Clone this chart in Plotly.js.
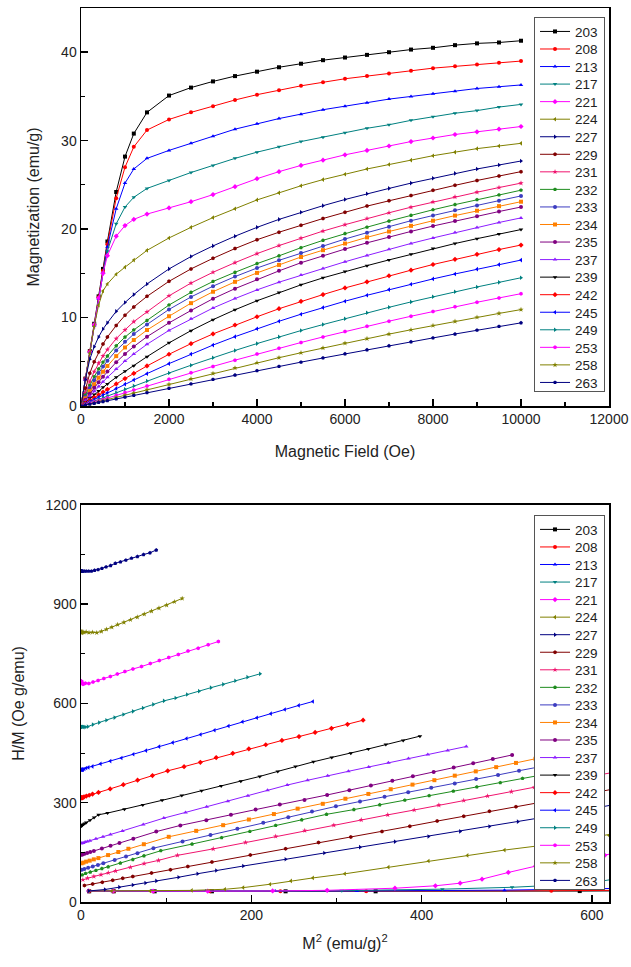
<!DOCTYPE html>
<html>
<head>
<meta charset="utf-8">
<script src="https://cdn.plot.ly/plotly-3.0.1.min.js"></script>
<style>html,body{margin:0;padding:0;background:#fff;}#chart{width:631px;height:967px;}</style>
</head>
<body>
<div id="chart"></div>
<script>
// Magnetic field values (Oe)
var H = [0,100,200,300,400,500,600,800,1000,1200,1500,2000,2500,3000,3500,4000,4500,5000,5500,6000,6500,7000,7500,8000,8500,9000,9500,10000];

// Magnetization (emu/g) for each temperature (K)
var m203 = [0,3.1,6.2,9.3,12.4,15.5,18.6,24.2,28.2,30.8,33.2,35.1,36.0,36.7,37.3,37.8,38.3,38.7,39.1,39.4,39.7,40.0,40.3,40.5,40.8,41.0,41.1,41.3];
var m208 = [0,3.1,6.2,9.2,12.3,15.3,18.3,23.5,27.0,29.3,31.2,32.4,33.2,33.9,34.6,35.2,35.7,36.2,36.6,37.0,37.3,37.6,37.9,38.2,38.4,38.6,38.8,39.0];
var m213 = [0,3.0,6.1,9.1,12.1,15.1,18.0,22.3,25.2,26.8,28.0,28.9,29.7,30.5,31.3,31.9,32.5,33.0,33.5,33.9,34.3,34.7,35.0,35.3,35.6,35.9,36.1,36.3];
var m217 = [0,3.0,6.1,9.2,12.2,15.0,17.5,20.6,22.5,23.6,24.6,25.5,26.4,27.2,28.0,28.7,29.3,29.9,30.4,30.9,31.4,31.8,32.3,32.7,33.1,33.4,33.8,34.1];
var m221 = [0,3.0,6.1,9.2,12.2,15.0,17.0,19.2,20.4,21.1,21.7,22.4,23.1,23.9,24.8,25.7,26.5,27.2,27.8,28.4,28.9,29.4,29.9,30.3,30.7,31.0,31.3,31.6];
var m224 = [0,3.0,6.0,9.0,11.4,13.0,13.8,14.9,15.7,16.5,17.6,19.0,20.2,21.3,22.3,23.3,24.1,24.9,25.6,26.2,26.8,27.3,27.8,28.3,28.7,29.1,29.4,29.7];
var m227 = [0,3.0,5.3,6.7,7.8,8.7,9.4,10.7,11.7,12.6,13.8,15.5,16.9,18.1,19.2,20.2,21.1,21.9,22.65,23.35,24.0,24.6,25.2,25.75,26.3,26.8,27.25,27.7];
var m229 = [0,2.0,3.7,5.0,6.1,7.0,7.8,9.1,10.25,11.2,12.4,14.1,15.5,16.7,17.8,18.8,19.65,20.45,21.2,21.9,22.6,23.2,23.8,24.4,24.95,25.5,26.0,26.5];
var m231 = [0,1.49,2.77,3.89,4.85,5.66,6.38,7.62,8.61,9.54,10.64,12.46,13.9,15.12,16.21,17.23,18.14,18.98,19.78,20.5,21.2,21.85,22.48,23.07,23.64,24.17,24.7,25.2];
var m232 = [0,1.22,2.32,3.31,4.19,4.95,5.65,6.8,7.8,8.6,9.68,11.42,12.85,14.08,15.12,16.1,16.98,17.9,18.73,19.5,20.22,20.91,21.56,22.19,22.77,23.33,23.87,24.4];
var m233 = [0,1.03,2.0,2.9,3.72,4.46,5.12,6.29,7.27,8.14,9.22,10.92,12.33,13.55,14.63,15.6,16.47,17.3,18.1,18.88,19.6,20.28,20.95,21.54,22.13,22.68,23.22,23.75];
var m234 = [0,0.855,1.68,2.46,3.2,3.88,4.52,5.64,6.62,7.46,8.59,10.15,11.63,12.92,14.04,15.05,15.95,16.85,17.62,18.37,19.07,19.73,20.37,20.95,21.53,22.08,22.6,23.1];
var m235 = [0,0.70,1.39,2.06,2.70,3.31,3.89,4.95,5.89,6.72,7.84,9.40,10.8,12.13,13.27,14.32,15.28,16.2,17.0,17.75,18.45,19.12,19.74,20.35,20.92,21.46,21.99,22.5];
var m237 = [0,0.565,1.12,1.68,2.21,2.73,3.24,4.19,5.08,5.88,6.98,8.55,9.86,11.08,12.15,13.13,14.0,14.8,15.56,16.31,17.02,17.72,18.38,19.0,19.61,20.18,20.75,21.27];
var m239 = [0,0.435,0.87,1.29,1.70,2.11,2.50,3.24,3.92,4.55,5.58,7.14,8.52,9.76,10.88,11.9,12.83,13.7,14.49,15.2,15.87,16.52,17.16,17.8,18.37,18.92,19.45,19.95];
var m242 = [0,0.317,0.635,0.952,1.27,1.58,1.89,2.50,3.10,3.68,4.53,5.85,7.05,8.15,9.16,10.09,11.0,11.84,12.6,13.35,14.04,14.73,15.36,16.0,16.58,17.15,17.69,18.2];
var m245 = [0,0.25,0.5,0.75,1.0,1.25,1.50,1.99,2.47,2.95,3.66,4.79,5.87,6.89,7.84,8.74,9.58,10.38,11.13,11.85,12.52,13.16,13.77,14.37,14.93,15.47,15.99,16.5];
var m249 = [0,0.189,0.378,0.567,0.756,0.945,1.134,1.51,1.89,2.27,2.83,3.73,4.61,5.46,6.28,7.06,7.81,8.53,9.21,9.87,10.54,11.16,11.77,12.35,12.92,13.46,13.98,14.5];
var m253 = [0,0.15,0.30,0.45,0.60,0.75,0.90,1.21,1.52,1.82,2.27,3.03,3.76,4.48,5.18,5.87,6.53,7.18,7.81,8.43,9.02,9.59,10.15,10.69,11.21,11.73,12.22,12.7];
var m258 = [0,0.123,0.245,0.368,0.491,0.613,0.736,0.982,1.227,1.47,1.84,2.45,3.07,3.68,4.30,4.89,5.46,6.02,6.56,7.10,7.62,8.13,8.62,9.10,9.57,10.03,10.47,10.9];
var m263 = [0,0.10,0.20,0.30,0.40,0.50,0.60,0.80,1.00,1.20,1.50,2.00,2.50,3.00,3.50,3.99,4.48,4.96,5.43,5.90,6.35,6.81,7.26,7.70,8.14,8.57,9.00,9.40];

var temps = ['203','208','213','217','221','224','227','229','231','232','233','234','235','237','239','242','245','249','253','258','263'];
var series = [m203,m208,m213,m217,m221,m224,m227,m229,m231,m232,m233,m234,m235,m237,m239,m242,m245,m249,m253,m258,m263];
var colors = ['#000000','#FF0000','#0000FF','#008080','#FF00FF','#808000','#000080','#800000','#F0146E','#1E8C1E','#3C3CC0','#FF8000','#800080','#8C1EFF','#000000','#FF0000','#0000FF','#008080','#FF00FF','#808000','#000080'];
var symbols = ['square','circle','triangle-up','triangle-down','diamond','triangle-left','triangle-right','hexagon','star','pentagon','circle'];

// The reference legends use tighter rows than Plotly's minimum row height;
// the legend entries are re-spaced with a stylesheet (robust to re-draws).
var ROW = 17.55, Y0 = 14.5, BOXH = 374;
(function(){
  var css = '';
  for (var k = 1; k <= temps.length; k++) {
    var y = (Y0 + (k-1)*ROW).toFixed(2);
    css += 'g.legend3 g.traces:nth-child(' + k + '), g.legend2 g.traces:nth-child(' + k + ')' +
           '{transform: translate(1px,' + y + 'px) !important;}\n';
  }
  css += 'g.legend3 rect.bg, g.legend2 rect.bg {height: ' + BOXH + 'px !important;}\n';
  var st = document.createElement('style');
  st.textContent = css;
  document.head.appendChild(st);
})();

var traces = [];
series.forEach(function(m, i){
  traces.push({
    x: H, y: m, xaxis: 'x', yaxis: 'y', name: temps[i], legend: 'legend3',
    mode: 'lines+markers', type: 'scatter',
    line: {color: colors[i], width: 1},
    marker: {color: colors[i], size: 4, symbol: symbols[i % symbols.length]}
  });
});
series.forEach(function(m, i){
  var xs = [], ys = [];
  for (var j = 1; j < H.length; j++) { xs.push(m[j]*m[j]); ys.push(H[j]/m[j]); }
  traces.push({
    x: xs, y: ys, xaxis: 'x2', yaxis: 'y2', name: temps[i], legend: 'legend2',
    mode: 'lines+markers', type: 'scatter',
    line: {color: colors[i], width: 1},
    marker: {color: colors[i], size: 4, symbol: symbols[i % symbols.length]}
  });
});

var FONT = 'Liberation Sans, Arial, sans-serif';
function ax(extra){
  var base = {
    showline: true, linecolor: '#000', linewidth: 1.5, mirror: true,
    ticks: 'inside', ticklen: 7, tickwidth: 1.5, tickcolor: '#000',
    showgrid: false, zeroline: false, tickformat: 'd',
    tickfont: {family: FONT, size: 14, color: '#222'},
    automargin: false
  };
  for (var k in extra) base[k] = extra[k];
  return base;
}

var legendStyle = {
  bgcolor: '#fff', bordercolor: '#555', borderwidth: 1,
  font: {family: FONT, size: 13.5, color: '#222'},
  xanchor: 'left', yanchor: 'top', itemwidth: 30, tracegroupgap: 0
};
var legTop = Object.assign({}, legendStyle, {x: 0.858, y: 0.990});
var legBot = Object.assign({}, legendStyle, {x: 0.858, y: 0.433});

var layout = {
  width: 631, height: 967,
  margin: {l: 81, r: 22, t: 8, b: 65},
  paper_bgcolor: '#fff', plot_bgcolor: '#fff',
  font: {family: FONT, color: '#222'},
  showlegend: true,
  legend3: legTop, legend2: legBot,
  xaxis: ax({domain: [0,1], anchor: 'y', range: [0, 12000], dtick: 2000, tick0: 0,
    minor: {ticks: 'inside', ticklen: 4, dtick: 1000, tickcolor: '#000', tickwidth: 1.2},
    title: {text: 'Magnetic Field (Oe)', font: {family: FONT, size: 16, color: '#222'}, standoff: 19}}),
  yaxis: ax({domain: [0.5548, 1], anchor: 'x', range: [0, 45], dtick: 10, tick0: 0,
    minor: {ticks: 'inside', ticklen: 4, dtick: 5, tickcolor: '#000', tickwidth: 1.2},
    title: {text: 'Magnetization (emu/g)', font: {family: FONT, size: 16, color: '#222'}, standoff: 17}}),
  xaxis2: ax({domain: [0,1], anchor: 'y2', range: [0, 620], dtick: 200, tick0: 0,
    minor: {ticks: 'inside', ticklen: 4, dtick: 100, tickcolor: '#000', tickwidth: 1.2},
    title: {text: 'M<sup>2</sup> (emu/g)<sup>2</sup>', font: {family: FONT, size: 16, color: '#222'}, standoff: 15}}),
  yaxis2: ax({domain: [0, 0.4441], anchor: 'x2', range: [0, 1200], dtick: 300, tick0: 0,
    minor: {ticks: 'inside', ticklen: 4, dtick: 150, tickcolor: '#000', tickwidth: 1.2},
    title: {text: 'H/M (Oe g/emu)', font: {family: FONT, size: 16, color: '#222'}, standoff: 17}})
};

function respaceLegends(){
  var legs = document.querySelectorAll('g.infolayer > g');
  for (var L = 0; L < legs.length; L++) {
    var cls = legs[L].getAttribute('class') || '';
    if (!/^legend/.test(cls)) continue;
    var items = legs[L].querySelectorAll('g.traces');
    for (var k = 0; k < items.length; k++) {
      items[k].style.setProperty('transform', 'translate(1px,' + (Y0 + k*ROW).toFixed(2) + 'px)', 'important');
    }
    var bg = legs[L].querySelector('rect.bg');
    if (bg && items.length > 3) bg.style.setProperty('height', BOXH + 'px', 'important');
  }
}

Plotly.newPlot('chart', traces, layout, {staticPlot: true, displayModeBar: false}).then(function(){
  respaceLegends();
  setTimeout(respaceLegends, 30);
  setTimeout(respaceLegends, 200);
});
</script>
</body>
</html>
